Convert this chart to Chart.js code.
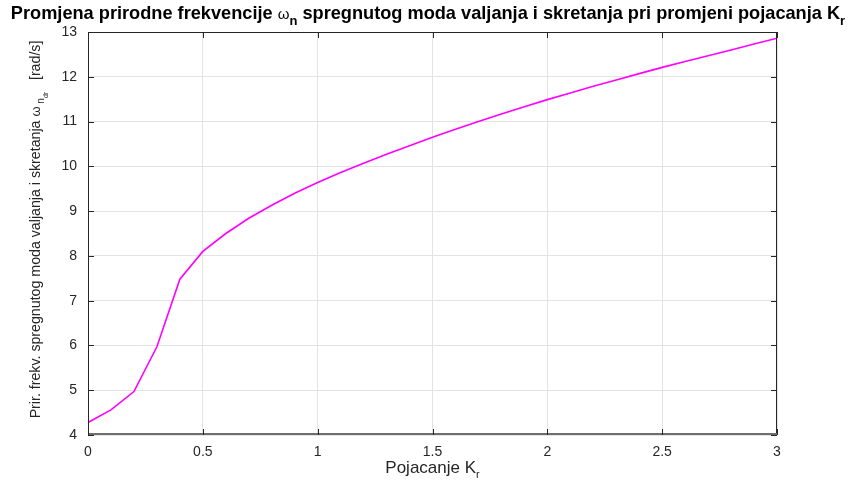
<!DOCTYPE html>
<html>
<head>
<meta charset="utf-8">
<script src="https://cdn.jsdelivr.net/npm/chart.js@4/dist/chart.umd.min.js"></script>
<style>
  html, body { margin: 0; padding: 0; background: #fff; }
  #wrap { width: 857px; height: 485px; }
</style>
</head>
<body>
<div id="wrap"><canvas id="c"></canvas></div>
<script>
// gain Kr values and the coupled roll/yaw natural frequency
const gainKr = [0, 0.1, 0.2, 0.3, 0.4, 0.5, 0.6, 0.7, 0.8, 0.9, 1.0,
  1.1, 1.2, 1.3, 1.4, 1.5, 1.6, 1.7, 1.8, 1.9, 2.0,
  2.1, 2.2, 2.3, 2.4, 2.5, 2.6, 2.7, 2.8, 2.9, 3.0];
const omegaN = [4.28, 4.56, 4.97, 5.97, 7.48, 8.10, 8.50, 8.84, 9.13, 9.40, 9.64,
  9.86, 10.07, 10.27, 10.46, 10.65, 10.83, 11.00, 11.17, 11.33, 11.49,
  11.64, 11.79, 11.93, 12.07, 12.21, 12.34, 12.47, 12.60, 12.73, 12.86];
const xTicks = [0, 0.5, 1, 1.5, 2, 2.5, 3];
const yTicks = [4, 5, 6, 7, 8, 9, 10, 11, 12, 13];

const cText = "#262626";
const cGrid = "#e3e3e3";
const cLine = "#ff00ff";
const fam = "'Liberation Sans', Arial, Helvetica, sans-serif";

// draws a run of [text, size, bold, dy] pieces centered at x
function drawRuns(ctx, runs, cx, y) {
  let total = 0;
  runs.forEach(r => {
    ctx.font = (r[2] ? "bold " : "") + r[1] + "px " + fam;
    r.w = ctx.measureText(r[0]).width;
    total += r.w;
  });
  let x = cx - total / 2;
  runs.forEach(r => {
    ctx.font = (r[2] ? "bold " : "") + r[1] + "px " + fam;
    ctx.fillText(r[0], x, y + r[3]);
    x += r.w;
  });
}

const decor = {
  id: "decor",
  afterDraw(chart) {
    const ctx = chart.ctx;
    const a = chart.chartArea;
    const xs = chart.scales.x, ys = chart.scales.y;
    ctx.save();
    // box
    ctx.strokeStyle = cText;
    ctx.lineWidth = 1;
    ctx.strokeRect(a.left + 0.5, a.top + 0.5, a.right - a.left - 1, a.bottom - a.top - 1);
    // heavier bottom axis
    ctx.strokeStyle = "#6e6e6e";
    ctx.lineWidth = 2;
    ctx.beginPath();
    ctx.moveTo(a.left, a.bottom - 1); ctx.lineTo(a.right, a.bottom - 1);
    ctx.stroke();
    // inward ticks
    ctx.strokeStyle = cText;
    ctx.lineWidth = 1;
    ctx.beginPath();
    xTicks.forEach(v => {
      const px = Math.round(xs.getPixelForValue(v)) + 0.5;
      ctx.moveTo(px, a.bottom); ctx.lineTo(px, a.bottom - 6);
      ctx.moveTo(px, a.top); ctx.lineTo(px, a.top + 6);
    });
    yTicks.forEach(v => {
      const py = Math.round(ys.getPixelForValue(v)) + 0.5;
      ctx.moveTo(a.left, py); ctx.lineTo(a.left + 6, py);
      ctx.moveTo(a.right, py); ctx.lineTo(a.right - 6, py);
    });
    ctx.stroke();

    ctx.fillStyle = "#000";
    ctx.textBaseline = "alphabetic";
    ctx.textAlign = "left";
    // title
    drawRuns(ctx, [
      ["Promjena prirodne frekvencije ", 18.2, true, 0],
      ["\u03c9", 15, false, 0],
      ["n", 13, true, 6],
      [" spregnutog moda valjanja i skretanja pri promjeni pojacanja K", 18.2, true, 0],
      ["r", 13, true, 6]
    ], 428, 19);

    ctx.fillStyle = cText;
    // x label
    drawRuns(ctx, [
      ["Pojacanje K", 17, false, 0],
      ["r", 11, false, 5]
    ], (a.left + a.right) / 2, 473);

    // y label, rotated
    ctx.translate(40, (a.top + a.bottom) / 2 - 4);
    ctx.rotate(-Math.PI / 2);
    drawRuns(ctx, [
      ["Prir. frekv. spregnutog moda valjanja i skretanja ", 14.2, false, 0],
      ["\u03c9", 13, false, 0],
      [" n", 10, false, 4],
      ["dr", 7, false, 8],
      ["   [rad/s]", 14.2, false, 0]
    ], 0, 0);
    ctx.restore();
  }
};

new Chart(document.getElementById("c"), {
  type: "scatter",
  data: {
    datasets: [{
      data: gainKr.map((k, i) => ({ x: k, y: omegaN[i] })),
      showLine: true,
      borderColor: cLine,
      borderWidth: 1.6,
      pointRadius: 0,
      tension: 0
    }]
  },
  options: {
    responsive: true,
    maintainAspectRatio: false,
    animation: false,
    layout: { padding: { left: 0, top: 32, right: 80, bottom: 0 } },
    plugins: { legend: { display: false }, tooltip: { enabled: false }, title: { display: false } },
    scales: {
      x: {
        type: "linear",
        min: 0, max: 3,
        afterBuildTicks: s => { s.ticks = xTicks.map(v => ({ value: v })); },
        afterFit: s => { s.height = 50; },
        border: { display: false },
        grid: { color: cGrid, drawTicks: false },
        ticks: { color: cText, padding: 9, font: { family: fam, size: 14 }, maxRotation: 0,
          callback: v => String(v) }
      },
      y: {
        min: 4, max: 13,
        afterBuildTicks: s => { s.ticks = yTicks.map(v => ({ value: v })); },
        afterFit: s => { s.width = 88; },
        border: { display: false },
        grid: { color: cGrid, drawTicks: false },
        ticks: { color: cText, padding: 11, font: { family: fam, size: 14 }, callback: v => String(v) }
      }
    }
  },
  plugins: [decor]
});
</script>
</body>
</html>
